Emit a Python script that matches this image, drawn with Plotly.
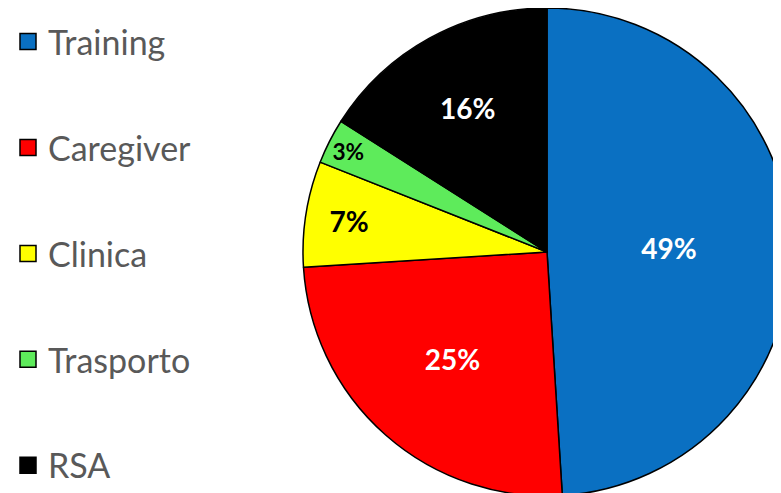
import plotly.graph_objects as go

categories = ["Training", "Caregiver", "Clinica", "Trasporto", "RSA"]
values = [49, 25, 7, 3, 16]
colors = ["#0A70C2", "#FF0000", "#FFFF00", "#5EEB5B", "#000000"]
text_colors = ["white", "white", "black", "black", "white"]

W, H = 800, 500

fig = go.Figure()

fig.add_trace(go.Pie(
    labels=categories,
    values=values,
    sort=False,
    direction="clockwise",
    rotation=0,
    marker=dict(colors=colors, line=dict(color="black", width=1.5)),
    textinfo="percent",
    textposition="inside",
    insidetextorientation="horizontal",
    insidetextfont=dict(family="Lato", size=28, color=text_colors, weight="bold"),
    showlegend=False,
    hoverinfo="label+percent",
    domain=dict(x=[295 / W, 783 / W], y=[1 - 488 / H, 1.0]),
))

# legend entries (one group each so they can be spaced apart)
for name, col in zip(categories, colors):
    fig.add_trace(go.Scatter(
        x=[None], y=[None], mode="markers", name=name,
        legendgroup=name,
        marker=dict(symbol="square", size=16, color=col,
                    line=dict(color="black", width=1.5)),
    ))

fig.update_layout(
    width=W, height=H,
    margin=dict(l=0, r=0, t=0, b=0),
    paper_bgcolor="white", plot_bgcolor="white",
    xaxis=dict(visible=False), yaxis=dict(visible=False),
    legend=dict(
        x=0.0, y=0.99, xanchor="left", yanchor="top",
        font=dict(family="Lato", size=34, color="#595959"),
        tracegroupgap=58.7,
        bgcolor="rgba(0,0,0,0)",
    ),
    showlegend=True,
)

fig.write_html("out.html")
